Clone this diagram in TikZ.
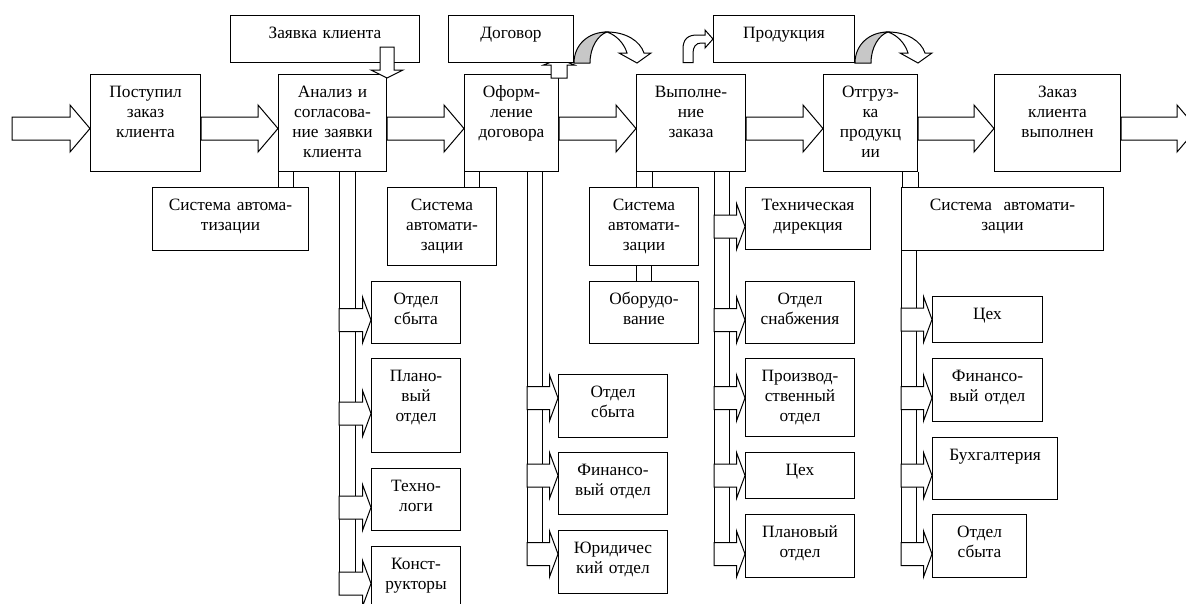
\documentclass[tikz,border=0pt]{standalone}
\usepackage{fontspec}
\setmainfont{Liberation Serif}
\usepackage{tikz}
\usetikzlibrary{calc}

\tikzset{
  box/.style={draw, fill=white, inner sep=0pt, anchor=north west, align=center,
    text height=22.5pt, font=\fontsize{17.3}{20}\selectfont},
  mainbox/.style={box, text depth=74.5pt},
  topbox/.style={box, text depth=24.5pt},
  blk/.style n args={3}{draw, fill=white, to path={
    ($(\tikztostart)!#1!90:(\tikztotarget)$)
    -- ($(\tikztotarget)!#3!(\tikztostart)!#1!90:(\tikztotarget)$)
    -- ($(\tikztotarget)!#3!(\tikztostart)!#2!90:(\tikztotarget)$)
    -- (\tikztotarget)
    -- ($(\tikztotarget)!#3!(\tikztostart)!#2!-90:(\tikztotarget)$)
    -- ($(\tikztotarget)!#3!(\tikztostart)!#1!-90:(\tikztotarget)$)
    -- ($(\tikztostart)!#1!-90:(\tikztotarget)$) -- cycle}},
  mainarr/.style={blk={11.5pt}{23.5pt}{20pt}},
  sidearr/.style={blk={11.5pt}{23pt}{8.5pt}},
  pics/curvearr/.style={code={
    \draw[fill=black!22] (0,0) .. controls (0,-18) and (14,-31) .. (33,-31)
      .. controls (24,-28) and (16,-16) .. (16,0) -- cycle;
    \draw[fill=white] (33,-31) .. controls (52,-31) and (66,-22) .. (70,-10)
      -- (77,-10) -- (63,0) -- (45,-10) -- (53,-10)
      .. controls (50,-20) and (42,-28) .. (33,-31) -- cycle;
  }},
  pics/bentarr/.style={code={
    \draw[fill=white] (-30,23.5) -- (-30,10) .. controls (-30,0) and (-25,-4) .. (-16,-4)
      -- (-8,-4) -- (-8,-9) -- (0,0) -- (-8,9) -- (-8,4) -- (-12,4)
      .. controls (-17,4) and (-20,8) .. (-20,14) -- (-20,23.5) -- cycle;
  }}
}

\begin{document}
\begin{tikzpicture}[x=1pt, y=-1pt, line width=1pt]
\useasboundingbox (0,0) rectangle (1186,603);
\clip (0,0) rectangle (1186,603);

% main chain
\node[mainbox, text width=110pt] (postupil) at (90,74) {Поступил\\заказ\\клиента};
\node[mainbox, text width=108pt] (analiz) at (278,74) {Анализ и\\согласова-\\ние заявки\\клиента};
\node[mainbox, text width=94pt] (oform) at (464,74) {Оформ-\\ление\\договора};
\node[mainbox, text width=109pt] (vypoln) at (636,74) {Выполне-\\ние\\заказа};
\node[mainbox, text width=94pt] (otgruz) at (823,74) {Отгруз-\\ка\\продукц\\ии};
\node[mainbox, text width=126pt] (gotov) at (994,74) {Заказ\\клиента\\выполнен};

\coordinate (entry) at (12,128.5);
\coordinate (exit) at (1197,128.5);
\draw[mainarr] (entry) to (postupil.west |- entry);
\draw[mainarr] (postupil.east |- entry) to (analiz.west |- entry);
\draw[mainarr] (analiz.east |- entry) to (oform.west |- entry);
\draw[mainarr] (oform.east |- entry) to (vypoln.west |- entry);
\draw[mainarr] (vypoln.east |- entry) to (otgruz.west |- entry);
\draw[mainarr] (otgruz.east |- entry) to (gotov.west |- entry);
\draw[mainarr] (gotov.east |- entry) to (exit);

% documents on top
\draw[blk={8pt}{15.5pt}{6pt}] ([yshift=-4pt]oform.north east) to ([yshift=15pt]oform.north east);
\node[topbox, text width=189pt] (zayavka) at (230,15) {Заявка клиента};
\node[topbox, text width=125pt] (dogovor) at (448,15) {Договор};
\node[topbox, text width=141pt] (produkt) at (713,15) {Продукция};
\draw[blk={7pt}{16pt}{8pt}] ([yshift=16pt]analiz.north east |- zayavka.south) to ([yshift=-4pt]analiz.north east);
\pic at (dogovor.south east) {curvearr};
\pic at (produkt.south east) {curvearr};
\pic at (produkt.west) {bentarr};

% automation systems
\draw (analiz.south west) -- ++(0,16);
\draw ([xshift=15pt]analiz.south west) -- ++(0,16);
\draw (oform.south west) -- ++(0,16);
\draw ([xshift=15pt]oform.south west) -- ++(0,16);
\draw (vypoln.south west) -- ++(0,16);
\draw ([xshift=16pt]vypoln.south west) -- ++(0,16);
\draw (otgruz.south east) -- ++(0,16);
\draw ([xshift=-16pt]otgruz.south east) -- ++(0,16);
\node[box, text width=156pt, text depth=40.5pt] (sys1) at (152,187) {Система автома-\\тизации};
\node[box, text width=109pt, text depth=55.5pt] (sys2) at (387,187) {Система\\автомати-\\зации};
\node[box, text width=109pt, text depth=55.5pt] (sys3) at (589,187) {Система\\автомати-\\зации};
\node[box, text width=202pt, text depth=40.5pt] (sys4) at (901,187) {Система\ \ автомати-\\зации};
\draw ([xshift=47pt]sys3.south west) -- ++(0,16);
\draw ([xshift=62pt]sys3.south west) -- ++(0,16);
\node[box, text width=109pt, text depth=39.5pt] (oborud) at (589,281) {Оборудо-\\вание};

% trunks
\coordinate (t1) at (339,171);
\coordinate (t2) at (527,171);
\coordinate (t3) at (714,171);
\coordinate (t4) at (901,250);
\draw (t1) -- ++(0,423.5);
\draw ([xshift=16pt]t1) -- ++(0,400.5);
\draw (t2) -- ++(0,394);
\draw ([xshift=15pt]t2) -- ++(0,371);
\draw (t3) -- ++(0,394);
\draw ([xshift=15pt]t3) -- ++(0,371);
\draw (t4) -- ++(0,315);
\draw ([xshift=15pt]t4) -- ++(0,292);

% departments: analysis
\node[box, text width=89pt, text depth=39.5pt] (c1a) at (371,281) {Отдел\\сбыта};
\node[box, text width=89pt, text depth=71.5pt] (c1b) at (371,358) {Плано-\\вый\\отдел};
\node[box, text width=89pt, text depth=39.5pt] (c1c) at (371,468) {Техно-\\логи};
\node[box, text width=89pt, text depth=71.5pt] (c1d) at (371,546) {Конст-\\рукторы};
\draw[sidearr] ([yshift=-7.5pt]c1a.west -| t1) to ([yshift=-7.5pt]c1a.west);
\draw[sidearr] ([yshift=-8pt]c1b.west -| t1) to ([yshift=-8pt]c1b.west);
\draw[sidearr] ([yshift=-8pt]c1c.west -| t1) to ([yshift=-8pt]c1c.west);
\draw[sidearr] ([yshift=10pt]c1d.west -| t1) to ([yshift=10pt]c1d.west);

% departments: contract
\node[box, text width=109pt, text depth=40.5pt] (c2a) at (558,374) {Отдел\\сбыта};
\node[box, text width=109pt, text depth=39.5pt] (c2b) at (558,452) {Финансо-\\вый отдел};
\node[box, text width=109pt, text depth=40.5pt] (c2c) at (558,530) {Юридичес\\кий отдел};
\draw[sidearr] ([yshift=8pt]c2a.west -| t2) to ([yshift=8pt]c2a.west);
\draw[sidearr] ([yshift=8pt]c2b.west -| t2) to ([yshift=8pt]c2b.west);
\draw[sidearr] ([yshift=8pt]c2c.west -| t2) to ([yshift=8pt]c2c.west);

% departments: order execution
\node[box, text width=125pt, text depth=39.5pt] (c3a) at (745,187) {Техническая\\дирекция};
\node[box, text width=109pt, text depth=39.5pt] (c3b) at (745,281) {Отдел\\снабжения};
\node[box, text width=109pt, text depth=55.5pt] (c3c) at (745,358) {Производ-\\ственный\\отдел};
\node[box, text width=109pt, text depth=23.5pt] (c3d) at (745,452) {Цех};
\node[box, text width=109pt, text depth=40.5pt] (c3e) at (745,514) {Плановый\\отдел};
\draw[sidearr] ([yshift=-8pt]c3a.west -| t3) to ([yshift=-8pt]c3a.west);
\draw[sidearr] ([yshift=-7.5pt]c3b.west -| t3) to ([yshift=-7.5pt]c3b.west);
\draw[sidearr] ([yshift=-0.5pt]c3c.west -| t3) to ([yshift=-0.5pt]c3c.west);
\draw[sidearr] (c3d.west -| t3) to (c3d.west);
\draw[sidearr] ([yshift=-8pt]c3e.west -| t3) to ([yshift=-8pt]c3e.west);

% departments: shipment
\node[box, text width=110pt, text depth=23.5pt] (c4a) at (932,296) {Цех};
\node[box, text width=110pt, text depth=40.5pt] (c4b) at (932,358) {Финансо-\\вый отдел};
\node[box, text width=125pt, text depth=39.5pt] (c4c) at (932,437) {Бухгалтерия};
\node[box, text width=94pt, text depth=40.5pt] (c4d) at (932,514) {Отдел\\сбыта};
\draw[sidearr] (c4a.west -| t4) to (c4a.west);
\draw[sidearr] ([yshift=-8pt]c4b.west -| t4) to ([yshift=-8pt]c4b.west);
\draw[sidearr] ([yshift=-7pt]c4c.west -| t4) to ([yshift=-7pt]c4c.west);
\draw[sidearr] ([yshift=-8pt]c4d.west -| t4) to ([yshift=-8pt]c4d.west);
\end{tikzpicture}
\end{document}
